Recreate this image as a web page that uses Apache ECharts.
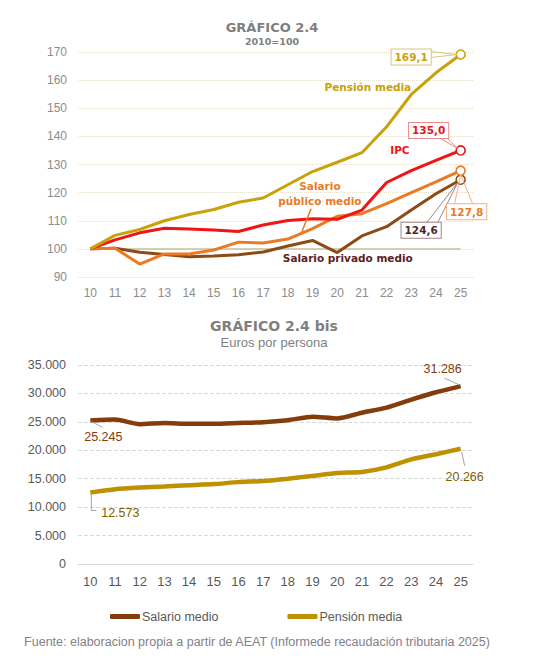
<!DOCTYPE html>
<html>
<head>
<meta charset="utf-8">
<script src="https://cdn.jsdelivr.net/npm/echarts@6/dist/echarts.min.js"></script>
<style>
html,body{margin:0;padding:0;background:#fff;}
#c{width:549px;height:664px;}
</style>
</head>
<body>
<div id="c"></div>
<script>
// ---- data ----
const YEARS = ['10','11','12','13','14','15','16','17','18','19','20','21','22','23','24','25'];
const PENSION_IDX = [100, 104.8, 106.9, 110.0, 112.2, 114.0, 116.6, 118.1, 122.8, 127.5, 130.8, 134.2, 143.4, 154.9, 162.6, 169.1];
const IPC_IDX     = [100, 103.2, 105.7, 107.3, 107.1, 106.7, 106.2, 108.5, 110.1, 110.7, 110.5, 113.8, 123.6, 127.8, 131.5, 135.0];
const PUBLICO_IDX = [100, 100.2, 94.6, 98.2, 98.2, 99.6, 102.4, 102.1, 103.5, 107.2, 111.6, 112.5, 116.1, 120.0, 123.8, 127.8];
const PRIVADO_IDX = [100, 100.2, 98.8, 98.0, 97.2, 97.5, 97.9, 98.9, 101.0, 103.0, 98.7, 104.6, 107.9, 113.8, 119.6, 124.6];
const BASE_IDX    = [100, 100, 100, 100, 100, 100, 100, 100, 100, 100, 100, 100, 100, 100, 100, 100];
const SALARIO_EUR = [25245, 25400, 24600, 24800, 24650, 24650, 24800, 24950, 25300, 25900, 25600, 26600, 27500, 28900, 30200, 31286];
const PENSION_EUR = [12573, 13150, 13450, 13650, 13850, 14050, 14400, 14600, 15000, 15500, 16000, 16200, 17000, 18400, 19300, 20266];
const IDX_TICKS = {min: 90, max: 170, interval: 10};
const EUR_TICKS = {min: 0, max: 35000, interval: 5000};

const C_PEN = '#c9a10a', C_IPC = '#f01414', C_PUB = '#ec7a22', C_PRI = '#8c4a16', C_BASE = '#c8c09c';
const C_SAL2 = '#843c0c', C_PEN2 = '#bf9000';
const LAST = YEARS.length - 1;

function fmtThousands(v){
  return String(v).replace(/\B(?=(\d{3})+(?!\d))/g, '.');
}
function idxSeries(name, data, color, z){
  return {
    name, type:'line', xAxisIndex:0, yAxisIndex:0, data, z,
    symbol:'circle', showSymbol:true,
    symbolSize:(v,p)=> p.dataIndex===LAST ? 9 : 0,
    itemStyle:{color:'#fff', borderColor:color, borderWidth:1.6},
    lineStyle:{color, width:3},
    silent:true
  };
}

const chart = echarts.init(document.getElementById('c'), null, {renderer:'svg'});
const F = '"Liberation Sans", Arial, sans-serif';
const FB = '"DejaVu Sans", Verdana, sans-serif';

chart.setOption({
  animation:false,
  grid:[
    {left:78, right:76, top:52, height:225},
    {left:78, right:76, top:365, height:199}
  ],
  legend:{
    data:['Salario medio','Pensión media'],
    left:105, top:605, itemWidth:30, itemHeight:5, itemGap:69,
    icon:'roundRect',
    textStyle:{fontSize:12.5, color:'#595959', fontFamily:F, padding:[0,0,0,-3]}
  },
  xAxis:[
    {gridIndex:0, type:'category', data:YEARS, boundaryGap:true,
     axisLine:{show:false}, axisTick:{show:false},
     axisLabel:{color:'#8c8c8c', fontSize:12, margin:10, fontFamily:F}},
    {gridIndex:1, type:'category', data:YEARS, boundaryGap:true,
     axisLine:{show:true, lineStyle:{color:'#d9d9d9', width:1}}, axisTick:{show:false},
     axisLabel:{color:'#595959', fontSize:13, margin:11, fontFamily:F}}
  ],
  yAxis:[
    {gridIndex:0, type:'value', min:IDX_TICKS.min, max:IDX_TICKS.max, interval:IDX_TICKS.interval,
     axisLine:{show:false}, axisTick:{show:false},
     splitLine:{lineStyle:{type:'dotted', color:'#e4dfcc', width:1}},
     axisLabel:{color:'#8c8c8c', fontSize:12, margin:11, fontFamily:F}},
    {gridIndex:1, type:'value', min:EUR_TICKS.min, max:EUR_TICKS.max, interval:EUR_TICKS.interval,
     axisLine:{show:false}, axisTick:{show:false},
     splitLine:{lineStyle:{type:'dashed', color:'#d9d9d9', width:1}},
     axisLabel:{color:'#595959', fontSize:12.5, margin:12, fontFamily:F, formatter:fmtThousands}}
  ],
  series:[
    {name:'Base 2010', type:'line', xAxisIndex:0, yAxisIndex:0, data:BASE_IDX, symbol:'none',
     lineStyle:{color:C_BASE, width:1.5}, z:1, silent:true},
    idxSeries('Salario privado medio', PRIVADO_IDX, C_PRI, 2),
    idxSeries('Salario público medio', PUBLICO_IDX, C_PUB, 3),
    idxSeries('IPC', IPC_IDX, C_IPC, 4),
    idxSeries('Pensión media (2010=100)', PENSION_IDX, C_PEN, 5),
    {name:'Salario medio', type:'line', xAxisIndex:1, yAxisIndex:1, data:SALARIO_EUR, symbol:'none',
     smooth:0.2, itemStyle:{color:C_SAL2}, lineStyle:{color:C_SAL2, width:4.5}, silent:true},
    {name:'Pensión media', type:'line', xAxisIndex:1, yAxisIndex:1, data:PENSION_EUR, symbol:'none',
     smooth:0.2, itemStyle:{color:C_PEN2}, lineStyle:{color:C_PEN2, width:4.5}, silent:true}
  ]
});

// ---- annotations positioned through the library's scales ----
function P(g, i, v){ return chart.convertToPixel({gridIndex:g}, [i, v]); }
function PF(g, fi, v){ // fractional category index
  const a = P(g, 0, v), b = P(g, 1, v);
  return [a[0] + fi*(b[0]-a[0]), a[1]];
}
function txt(x, y, text, font, fill, extra){
  return {type:'text', silent:true, z:100, style:Object.assign({x, y, text, font, fill, align:'center', verticalAlign:'middle'}, extra||{})};
}
function line(pts, stroke, w){
  return {type:'polyline', silent:true, z:99, shape:{points:pts}, style:{stroke, lineWidth:w||1, fill:null}};
}
function box(pt, dx, dy, text, color, border){
  return txt(pt[0]+dx, pt[1]+dy, text, 'bold 10.5px '+FB, color,
    {backgroundColor:'#fff', borderColor:border, borderWidth:1, padding:[2,3,2,3]});
}

const pPen = P(0, LAST, PENSION_IDX[LAST]);
const pIpc = P(0, LAST, IPC_IDX[LAST]);
const pPub = P(0, LAST, PUBLICO_IDX[LAST]);
const pPri = P(0, LAST, PRIVADO_IDX[LAST]);
const pSal0 = P(1, 0, SALARIO_EUR[0]), pSalL = P(1, LAST, SALARIO_EUR[LAST]);
const pPen0 = P(1, 0, PENSION_EUR[0]), pPenL = P(1, LAST, PENSION_EUR[LAST]);

const lblPen = PF(0, 11.24, 157.6);
const lblIpc = PF(0, 12.54, 135.2);
const lblPub = PF(0, 9.3, 119.6);
const pubA = PF(0, 8.94, 114.3), pubB = PF(0, 8.57, 106.1);
const lblPri = PF(0, 10.43, 96.8);

const g = [
  txt(272, 27, 'GRÁFICO 2.4', 'bold 13px '+FB, '#7f7f7f'),
  txt(272, 41, '2010=100', 'bold 9.5px '+FB, '#7f7f7f'),
  txt(274, 326, 'GRÁFICO 2.4 bis', 'bold 14px '+FB, '#7f7f7f'),
  txt(274, 342, 'Euros por persona', '13px '+F, '#7f7f7f'),
  txt(257, 642, 'Fuente: elaboracion propia a partir de AEAT (Informede recaudación tributaria 2025)', '12.5px '+F, '#85808a'),

  txt(lblPen[0], lblPen[1], 'Pensión media', 'bold 10.5px '+FB, C_PEN),
  txt(lblIpc[0], lblIpc[1], 'IPC', 'bold 10.5px '+FB, C_IPC),
  txt(lblPub[0], lblPub[1], 'Salario\npúblico medio', 'bold 10.5px '+FB, C_PUB, {lineHeight:15}),
  line([pubA, pubB], C_PUB, 1.5),
  txt(lblPri[0], lblPri[1], 'Salario privado medio', 'bold 10.5px '+FB, '#5a2222'),

  line([[pPen[0]-30, pPen[1]-3], [pPen[0]-4, pPen[1]], [pPen[0]-30, pPen[1]+3]], '#d8c77a', 1),
  box(pPen, -49.5, 2.5, '169,1', C_PEN, '#d8c77a'),
  line([[pIpc[0]-22, pIpc[1]-13], [pIpc[0]-3, pIpc[1]-2], [pIpc[0]-14, pIpc[1]-13]], '#f08a8a', 1),
  box(pIpc, -32, -20, '135,0', '#e8141c', '#f08a8a'),
  line([[pPub[0]-6, pPub[1]+33], [pPub[0], pPub[1]+4], [pPub[0]+12, pPub[1]+33]], '#f4b183', 1),
  box(pPub, 6, 41, '127,8', C_PUB, '#f4b183'),
  line([[pPri[0]-34, pPri[1]+43], [pPri[0]-3, pPri[1]+3], [pPri[0]-23, pPri[1]+43]], '#a08585', 1),
  box(pPri, -39.5, 50.5, '124,6', '#4d2626', '#a08585'),

  line([[pSal0[0]+1, pSal0[1]+1], [pSal0[0]+12, pSal0[1]+7]], '#a6a6a6', 1),
  txt(pSal0[0]+13, pSal0[1]+17, fmtThousands(SALARIO_EUR[0]), '12.5px '+F, C_SAL2),
  line([[pSalL[0]-16, pSalL[1]-8], [pSalL[0]-1, pSalL[1]-1]], '#a6a6a6', 1),
  txt(pSalL[0]-18, pSalL[1]-17, fmtThousands(SALARIO_EUR[LAST]), '12.5px '+F, C_SAL2),
  line([[pPen0[0]+1, pPen0[1]+1], [pPen0[0]+1, pPen0[1]+18], [pPen0[0]+6, pPen0[1]+18]], '#a6a6a6', 1),
  txt(pPen0[0]+30, pPen0[1]+20, fmtThousands(PENSION_EUR[0]), '12.5px '+F, '#7f6000'),
  line([[pPenL[0]+1, pPenL[1]+3], [pPenL[0]+4, pPenL[1]+17]], '#a6a6a6', 1),
  txt(pPenL[0]+4, pPenL[1]+28, fmtThousands(PENSION_EUR[LAST]), '12.5px '+F, '#7f6000')
];
chart.setOption({graphic:g});
</script>
</body>
</html>
